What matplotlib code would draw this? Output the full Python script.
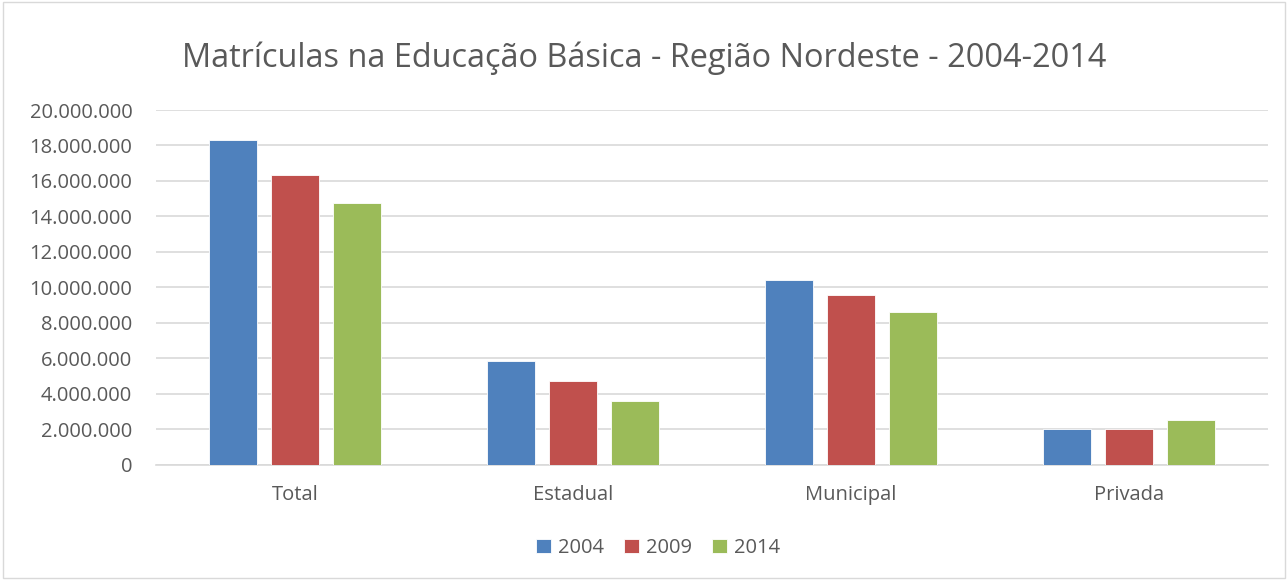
import matplotlib
matplotlib.use("Agg")
import matplotlib.pyplot as plt
import numpy as np
from matplotlib.ticker import FuncFormatter, MultipleLocator

categorias = ["Total", "Estadual", "Municipal", "Privada"]
anos = ["2004", "2009", "2014"]
m2004 = [18310000, 5850000, 10430000, 1980000]
m2009 = [16320000, 4720000, 9560000, 1980000]
m2014 = [14770000, 3580000, 8590000, 2500000]

cores = ["#4F81BD", "#C0504D", "#9BBB59"]
texto = "#595959"

plt.rcParams["font.family"] = ["Open Sans", "DejaVu Sans"]

fig = plt.figure(figsize=(12.88, 5.8), dpi=100)
ax = fig.add_axes([0.1211, 0.199, 0.8634, 0.6113])

x = np.arange(len(categorias))
largura = 0.173
passo = 0.223
for i, (serie, ano) in enumerate(zip([m2004, m2009, m2014], anos)):
    ax.bar(x + (i - 1) * passo, serie, largura, color=cores[i], label=ano,
           edgecolor="white", linewidth=0.6, zorder=3)

ax.set_xlim(-0.5, 3.5)
ax.set_ylim(0, 20000000)
ax.yaxis.set_major_locator(MultipleLocator(2000000))
ax.yaxis.set_major_formatter(FuncFormatter(lambda v, p: f"{int(v):,}".replace(",", ".")))
ax.grid(axis="y", color="#D9D9D9", linewidth=1.2, zorder=0)
ax.set_xticks(x)
ax.set_xticklabels(categorias)
ax.tick_params(axis="both", length=0, labelsize=14.5, colors=texto)
ax.tick_params(axis="x", pad=15)
ax.tick_params(axis="y", pad=17)
for s in ["top", "right", "left"]:
    ax.spines[s].set_visible(False)
ax.spines["bottom"].set_color("#D9D9D9")
ax.spines["bottom"].set_linewidth(1.2)

fig.text(0.5, 0.9, "Matrículas na Educação Básica - Região Nordeste - 2004-2014",
         ha="center", va="center", fontsize=23.4, color=texto)

leg = fig.legend(loc="center", bbox_to_anchor=(0.511, 0.055), ncol=3, frameon=False,
                 fontsize=14.5, handlelength=0.75, handleheight=0.75, handletextpad=0.35,
                 columnspacing=1.0)
for t in leg.get_texts():
    t.set_color(texto)

borda = plt.Rectangle((0.002, 0.003), 0.996, 0.994, transform=fig.transFigure,
                      fill=False, edgecolor="#D9D9D9", linewidth=1)
fig.patches.append(borda)

fig.savefig("out.png", dpi=100)
